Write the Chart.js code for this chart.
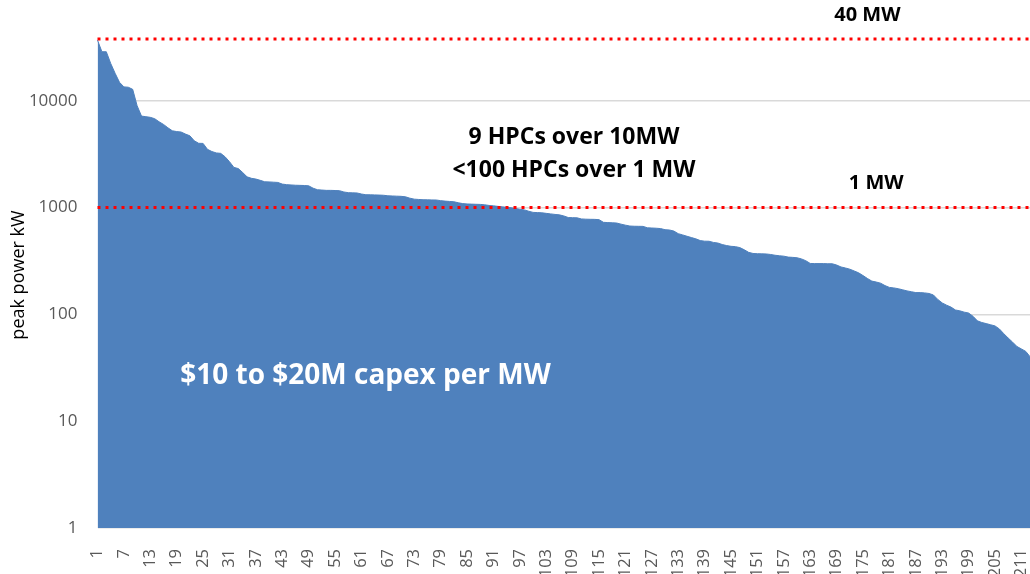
<!DOCTYPE html>
<html>
<head>
<meta charset="utf-8">
<script src="https://cdn.jsdelivr.net/npm/chart.js@4.4.1/dist/chart.umd.min.js"></script>
<style>
  html, body { margin: 0; padding: 0; background: #fff; }
  #wrap { position: relative; width: 1030px; height: 574px; overflow: hidden; }
  #chart { position: absolute; left: 0; top: -20px; }
</style>
</head>
<body>
<div id="wrap">
  <canvas id="chart" width="1039" height="594"></canvas>
</div>
<script>
// rank of each HPC system (1 = largest)
const categories = Array.from({ length: 215 }, (_, i) => String(i + 1));

// peak power in kW
const peakPowerKW = [
  37000, 28800, 28800, 22400, 18100, 14900, 13500, 13400, 12800, 9000,
  7190, 7100, 7000, 6800, 6360, 6010, 5590, 5240, 5150, 5100,
  4880, 4700, 4220, 4000, 3990, 3510, 3350, 3250, 3220, 2990,
  2690, 2380, 2320, 2130, 1940, 1880, 1850, 1800, 1745, 1740,
  1730, 1720, 1660, 1640, 1630, 1620, 1615, 1610, 1600, 1520,
  1470, 1460, 1450, 1450, 1445, 1440, 1400, 1380, 1375, 1370,
  1340, 1320, 1318, 1315, 1310, 1305, 1290, 1285, 1280, 1275,
  1262, 1225, 1200, 1192, 1185, 1183, 1180, 1178, 1162, 1150,
  1142, 1135, 1110, 1090, 1082, 1078, 1074, 1071, 1062, 1048,
  1038, 1027, 1017, 1006, 997, 981, 966, 952, 925, 902,
  898, 894, 883, 873, 863, 855, 835, 807, 805, 802,
  783, 779, 777, 776, 771, 728, 724, 721, 717, 700,
  685, 672, 669, 668, 667, 647, 644, 641, 636, 621,
  617, 603, 570, 555, 539, 524, 510, 491, 485, 484,
  472, 466, 451, 441, 434, 431, 422, 403, 381, 372,
  370, 369, 368, 364, 358, 354, 351, 344, 342, 339,
  331, 318, 300, 299, 299, 299, 298, 298, 290, 278,
  272, 265, 255, 245, 231, 217, 205, 201, 196, 186,
  179, 177, 174, 170, 166, 163, 160, 160, 159, 157,
  152, 138, 128, 122, 117, 110, 108, 105, 103, 96,
  87, 84, 82, 80, 78, 73, 66, 60, 55, 50,
  47.5, 45, 40, 36, 32
];

const yTicks = [1, 10, 100, 1000, 10000, 100000];

// red dotted reference lines
const refLineValues = [38000, 1000];

// text notes, placed in data coordinates (category index, kW)
const notes = [
  { text: '40 MW', x: 175, y: 63000, size: 20, color: '#000', align: 'center' },
  { text: '9 HPCs over 10MW', x: 108.3, y: 4570, size: 23, color: '#000', align: 'center' },
  { text: '<100 HPCs over 1 MW', x: 108.3, y: 2245, size: 23, color: '#000', align: 'center' },
  { text: '1 MW', x: 177, y: 1695, size: 20, color: '#000', align: 'center' },
  { text: '$10 to $20M capex per MW', x: 18.8, y: 26.4, size: 28, color: '#fff', align: 'left' }
];

const overlay = {
  id: 'overlay',
  afterDatasetsDraw(chart) {
    const { ctx, chartArea, scales } = chart;
    ctx.save();
    // reference lines
    ctx.strokeStyle = '#ff0000';
    ctx.lineWidth = 3;
    ctx.setLineDash([3, 5]);
    refLineValues.forEach(v => {
      const py = scales.y.getPixelForValue(v);
      ctx.beginPath();
      ctx.moveTo(chartArea.left, py);
      ctx.lineTo(chartArea.right, py);
      ctx.stroke();
    });
    ctx.setLineDash([]);
    // notes
    ctx.textBaseline = 'middle';
    notes.forEach(n => {
      ctx.font = 'bold ' + n.size + 'px "Open Sans", sans-serif';
      ctx.fillStyle = n.color;
      ctx.textAlign = n.align;
      ctx.fillText(n.text, scales.x.getPixelForValue(n.x), scales.y.getPixelForValue(n.y));
    });
    // y axis title (sits a bit below the middle, like the original)
    ctx.translate(chartArea.left - 79, (chartArea.top + chartArea.bottom) / 2 + 14);
    ctx.rotate(-Math.PI / 2);
    ctx.font = '18px "Open Sans", sans-serif';
    ctx.fillStyle = '#000';
    ctx.textAlign = 'center';
    ctx.fillText('peak power kW', 0, 0);
    ctx.restore();
  }
};

new Chart(document.getElementById('chart'), {
  type: 'line',
  data: {
    labels: categories,
    datasets: [{
      data: peakPowerKW,
      backgroundColor: '#4f81bd',
      borderColor: '#4f81bd',
      borderWidth: 1,
      fill: 'start',
      pointRadius: 0,
      tension: 0
    }]
  },
  options: {
    responsive: false,
    animation: false,
    devicePixelRatio: 1,
    layout: { padding: { top: 14, left: 0, right: 0, bottom: 0 } },
    plugins: {
      legend: { display: false },
      tooltip: { enabled: false }
    },
    scales: {
      x: {
        offset: false,
        grid: { display: false },
        border: { display: false },
        ticks: {
          autoSkip: false,
          maxRotation: 90,
          minRotation: 90,
          padding: 13,
          color: '#595959',
          font: { family: '"Open Sans", sans-serif', size: 16.5 },
          callback: (val, i) => (i % 6 === 0 ? categories[i] : null)
        },
        afterFit: s => { s.height = 46; s.paddingLeft = 0; s.paddingRight = 0; }
      },
      y: {
        type: 'logarithmic',
        min: 1,
        max: 100000,
        grid: { color: '#d9d9d9', lineWidth: 1.5, drawTicks: false },
        border: { display: false },
        ticks: {
          padding: 20,
          color: '#595959',
          font: { family: '"Open Sans", sans-serif', size: 17 },
          callback: v => (v < 100000 ? String(v) : null)
        },
        afterBuildTicks: s => { s.ticks = yTicks.map(v => ({ value: v })); },
        afterFit: s => { s.width = 97.5; s.paddingTop = 0; s.paddingBottom = 0; }
      }
    }
  },
  plugins: [overlay]
});
</script>
</body>
</html>
